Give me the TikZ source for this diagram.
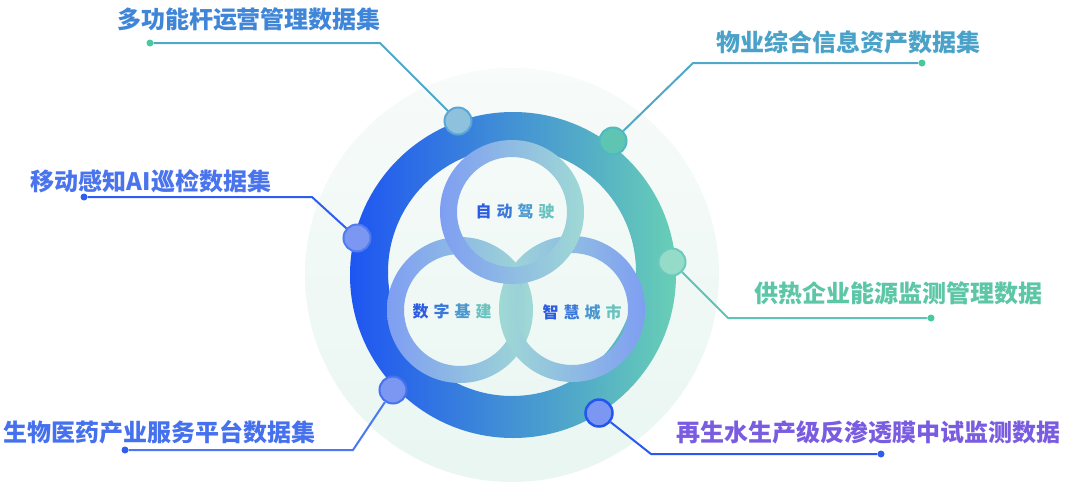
\documentclass[tikz,border=0pt]{standalone}
\usepackage{fontspec}
\newfontfamily\cjk{Noto Sans CJK SC}
\definecolor{paleT}{HTML}{F7FBFA}
\definecolor{paleB}{HTML}{E9F6F1}
\definecolor{ringL}{HTML}{1E55F2}
\definecolor{ringM}{HTML}{3F8DD6}
\definecolor{ringR}{HTML}{68CFB6}
\definecolor{peri}{HTML}{7F9EF2}
\definecolor{mint}{HTML}{9FD9D4}
\definecolor{ta}{HTML}{2C5CE2}
\definecolor{tb}{HTML}{3A78DA}
\definecolor{tc}{HTML}{4B98D0}
\definecolor{td}{HTML}{68C2C0}
\definecolor{cPole}{HTML}{3F86D8}
\definecolor{cProp}{HTML}{4AA2C8}
\definecolor{cSense}{HTML}{4A74EE}
\definecolor{cHeat}{HTML}{5CC6A6}
\definecolor{cBio}{HTML}{4570EE}
\definecolor{cWater}{HTML}{7A5CE0}
\definecolor{lnTeal}{HTML}{4FA8C8}
\definecolor{lnGreen}{HTML}{5CC5B5}
\definecolor{lnBlue}{HTML}{2F5EEE}
\definecolor{lnBio}{HTML}{4A78F0}
\definecolor{lnWater}{HTML}{2B58F0}
\definecolor{endG}{HTML}{48C89E}
\definecolor{dotPole}{HTML}{8EC2DC}
\definecolor{rimPole}{HTML}{5AA6D8}
\definecolor{dotProp}{HTML}{5EC5B2}
\definecolor{rimProp}{HTML}{50B8C0}
\definecolor{dotBlue}{HTML}{7C97F2}
\definecolor{rimSense}{HTML}{4F7AF0}
\definecolor{dotHeat}{HTML}{95DCC8}
\definecolor{rimHeat}{HTML}{6CC9BE}
\definecolor{rimBio}{HTML}{4672F0}
\definecolor{rimWater}{HTML}{2356F0}
\begin{document}
\begin{tikzpicture}[x=1pt,y=-1pt,
    ringdot/.style={circle,minimum size=27pt,inner sep=0pt,line width=2pt},
    enddot/.style={circle,minimum size=7pt,inner sep=0pt},
    lead/.style={line width=2pt},
    setlabel/.style={font=\cjk\bfseries\fontsize{24}{28}\selectfont,inner sep=0pt},
    inlabel/.style={font=\cjk\bfseries\fontsize{16}{18}\selectfont,inner sep=0pt}]
    \useasboundingbox (0,0) rectangle (1080,483);
    % halo and big ring
    \shade[top color=paleT,bottom color=paleB] (512,275) circle (207pt);
    \shade[left color=ringL,middle color=ringM,right color=ringR,even odd rule]
        (513,275) circle (163pt) (512,272) circle (124pt);
    % three small rings
    \shade[left color=peri,right color=mint,even odd rule] (460,310) circle (73pt) circle (56pt);
    \shade[left color=mint,right color=peri,even odd rule] (572,309) circle (73pt) circle (56pt);
    \shade[left color=peri,right color=mint,even odd rule] (512,212) circle (72pt) circle (55pt);
    \node[inlabel] (auto) at (515,211) {\color{ta}自\hspace{5pt}\color{tb}动\hspace{5pt}\color{tc}驾\hspace{5pt}\color{td}驶};
    \node[inlabel] (infra) at (452,311) {\color{ta}数\hspace{5pt}\color{tb}字\hspace{5pt}\color{tc}基\hspace{5pt}\color{td}建};
    \node[inlabel] (city) at (582,312) {\color{ta}智\hspace{5pt}\color{tb}慧\hspace{5pt}\color{tc}城\hspace{5pt}\color{td}市};
    % leader ends
    \node[enddot,fill=endG] (e1) at (150,43) {};
    \node[enddot,fill=endG] (e2) at (922,63) {};
    \node[enddot,fill=lnBlue] (e3) at (84,197) {};
    \node[enddot,fill=endG] (e4) at (931,318) {};
    \node[enddot,fill=lnBlue] (e5) at (125,450) {};
    \node[enddot,fill=lnBlue] (e6) at (881,454) {};
    \coordinate (k1) at (380,43);
    \coordinate (k2) at (693,63);
    \coordinate (k3) at (312,197);
    \coordinate (k4) at (728,318);
    \coordinate (k5) at (353,450);
    \coordinate (k6) at (651,454);
    % dots on the ring
    \node[ringdot,fill=dotPole,draw=rimPole] (d1) at (458,121) {};
    \node[ringdot,fill=dotProp,draw=rimProp] (d2) at (613,141) {};
    \node[ringdot,fill=dotBlue,draw=rimSense] (d3) at (357,238) {};
    \node[ringdot,fill=dotHeat,draw=rimHeat] (d4) at (672,262) {};
    \node[ringdot,fill=dotBlue,draw=rimBio] (d5) at (393,390) {};
    \node[ringdot,fill=dotBlue,draw=rimWater,line width=2.5pt] (d6) at (599,413) {};
    \draw[lead,lnTeal] (d1) -- (k1) -- (e1);
    \draw[lead,lnTeal] (d2) -- (k2) -- (e2);
    \draw[lead,lnBlue] (d3) -- (k3) -- (e3);
    \draw[lead,lnGreen] (d4) -- (k4) -- (e4);
    \draw[lead,lnBio] (d5) -- (k5) -- (e5);
    \draw[lead,lnWater] (d6) -- (k6) -- (e6);
    % data set labels
    \node[setlabel,text=cPole] (t1) at (249,19) {多功能杆运营管理数据集};
    \node[setlabel,text=cProp] (t2) at (848,42) {物业综合信息资产数据集};
    \node[setlabel,text=cSense] (t3) at (151,181) {移动感知AI巡检数据集};
    \node[setlabel,text=cHeat] (t4) at (898,293) {供热企业能源监测管理数据};
    \node[setlabel,text=cBio] (t5) at (160,432) {生物医药产业服务平台数据集};
    \node[setlabel,text=cWater] (t6) at (868,432) {再生水生产级反渗透膜中试监测数据};
\end{tikzpicture}
\end{document}
